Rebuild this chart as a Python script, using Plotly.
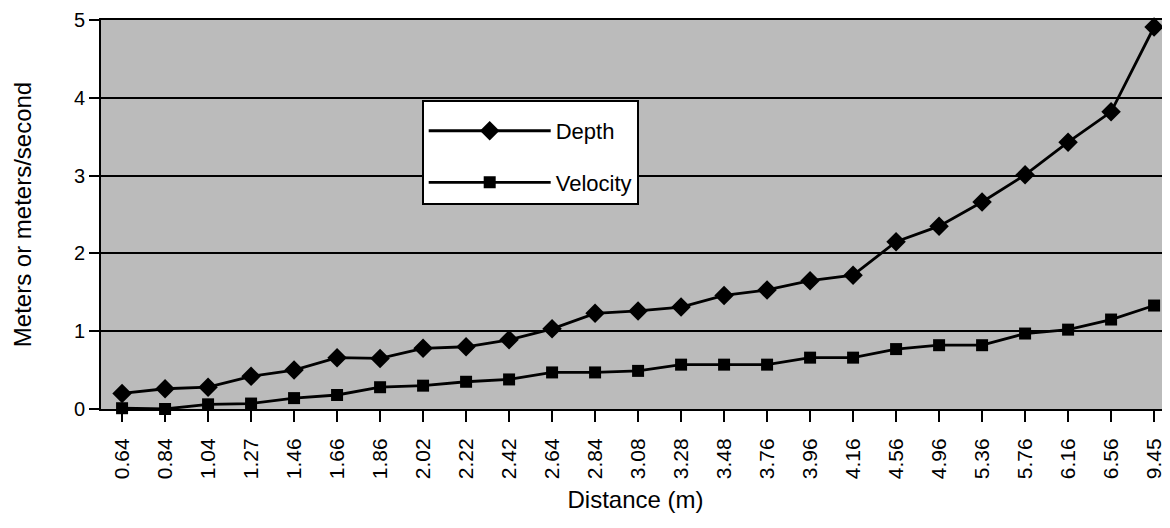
import plotly.graph_objects as go

distance_labels = ["0.64", "0.84", "1.04", "1.27", "1.46", "1.66", "1.86", "2.02", "2.22",
                   "2.42", "2.64", "2.84", "3.08", "3.28", "3.48", "3.76", "3.96", "4.16",
                   "4.56", "4.96", "5.36", "5.76", "6.16", "6.56", "9.45"]
depth = [0.20, 0.26, 0.28, 0.42, 0.50, 0.66, 0.65, 0.78, 0.80, 0.89, 1.03, 1.23, 1.26,
         1.31, 1.46, 1.53, 1.65, 1.72, 2.15, 2.35, 2.66, 3.01, 3.43, 3.82, 4.91]
velocity = [0.01, 0.0, 0.06, 0.07, 0.14, 0.18, 0.28, 0.30, 0.35, 0.38, 0.47, 0.47, 0.49,
            0.57, 0.57, 0.57, 0.66, 0.66, 0.77, 0.82, 0.82, 0.97, 1.02, 1.15, 1.33]
y_ticks = [0, 1, 2, 3, 4, 5]

FONT = "Liberation Sans, Arial, Helvetica, sans-serif"

fig = go.Figure()
fig.add_trace(go.Scatter(
    x=distance_labels, y=depth, name="Depth", mode="lines+markers",
    line=dict(color="black", width=2.8),
    marker=dict(symbol="diamond", size=15, color="black"),
    cliponaxis=False, legendgroup="a"))
fig.add_trace(go.Scatter(
    x=distance_labels, y=velocity, name="Velocity", mode="lines+markers",
    line=dict(color="black", width=2.8),
    marker=dict(symbol="square", size=12, color="black"),
    cliponaxis=False, legendgroup="b"))

# page body has an 8px margin, so the figure is sized/placed to compensate
fig.update_layout(
    width=1162, height=520,
    margin=dict(l=93, r=0, t=12, b=119, autoexpand=False),
    paper_bgcolor="white", plot_bgcolor="#bbbbbb",
    font=dict(family=FONT, color="black", size=21),
    showlegend=True,
    legend=dict(
        x=0.30, y=0.794, xanchor="left", yanchor="top",
        bgcolor="white", bordercolor="black", borderwidth=2,
        font=dict(family=FONT, size=22, color="black"),
        itemwidth=122, traceorder="grouped", tracegroupgap=20,
        title=dict(text=" ", font=dict(size=6)),
    ),
    xaxis=dict(
        type="category", range=[-0.49, 24.37], automargin=False,
        showline=True, linecolor="black", linewidth=2, mirror=True,
        ticks="outside", ticklen=11, tickwidth=2, tickcolor="black",
        tickangle=-90, tickfont=dict(family=FONT, size=21), ticklabelstandoff=8,
        showgrid=False,
        title=dict(text="Distance (m)", font=dict(family=FONT, size=24), standoff=13),
    ),
    yaxis=dict(
        range=[0, 5], tickvals=y_ticks, automargin=False,
        showline=True, linecolor="black", linewidth=2,
        ticks="outside", ticklen=10, tickwidth=2, tickcolor="black",
        tickfont=dict(family=FONT, size=20), ticklabeloverflow="allow",
        showgrid=True, gridcolor="black", gridwidth=1.5, zeroline=False,
        title=dict(text="Meters or meters/second", font=dict(family=FONT, size=24), standoff=35),
    ),
)

fig.write_html("out.html")
